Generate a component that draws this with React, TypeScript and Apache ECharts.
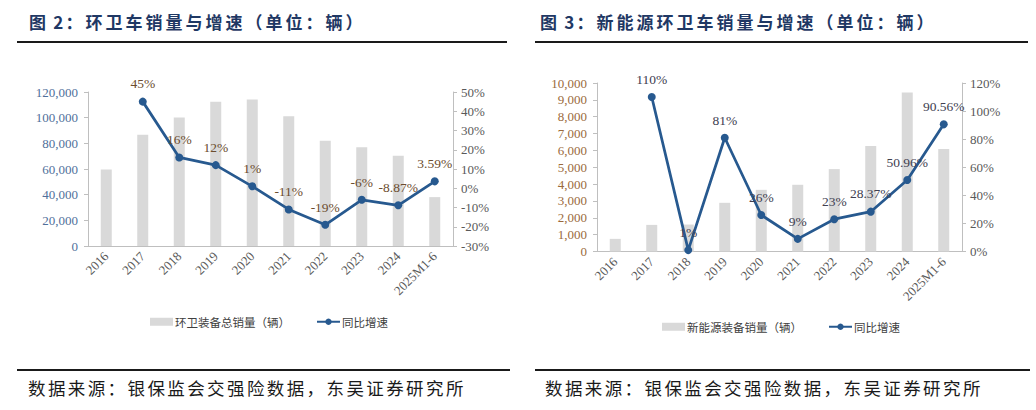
import React, { useEffect, useRef } from "react";
import * as echarts from "echarts";

const categories = ["2016", "2017", "2018", "2019", "2020", "2021", "2022", "2023", "2024", "2025M1-6"];

// Left chart: total sanitation equipment sales (units) and YoY growth (%)
const totalSales = [59600, 86600, 100100, 112500, 114100, 101100, 82000, 77000, 70300, 38100];
const totalGrowth = [null, 45, 16, 12, 1, -11, -19, -6, -8.87, 3.59];
const leftCountTicks = { min: 0, max: 120000, interval: 20000 };
const leftPctTicks = { min: -30, max: 50, interval: 10 };

// Right chart: new-energy sanitation equipment sales (units) and YoY growth (%)
const neSales = [750, 1580, 1600, 2890, 3660, 3960, 4890, 6260, 9440, 6080];
const neGrowth = [null, 110, 1, 81, 26, 9, 23, 28.37, 50.96, 90.56];
const rightCountTicks = { min: 0, max: 10000, interval: 1000 };
const rightPctTicks = { min: 0, max: 120, interval: 20 };

const titleLeft = "图 2：环卫车销量与增速（单位：辆）";
const titleRight = "图 3：新能源环卫车销量与增速（单位：辆）";
const sourceText = "数据来源：银保监会交强险数据，东吴证券研究所";
const legendLeft = ["环卫装备总销量（辆）", "同比增速"];
const legendRight = ["新能源装备销量（辆）", "同比增速"];

const SERIF = "'Liberation Serif', 'Times New Roman', 'Noto Sans CJK SC', serif";
const CJK = "'Noto Sans CJK SC', sans-serif";
const BAR = "#d9d9d9";
const LINE = "#27598f";
const AXIS = "#bfbfbf";

function fmtThousands(v: number) {
  return v.toLocaleString("en-US");
}

// spaced text: one text element per character, with a fixed extra spacing
function spacedText(
  text: string,
  left: number,
  top: number,
  fontSize: number,
  spacing: number,
  style: any
) {
  const children: any[] = [];
  let x = 0;
  for (const ch of Array.from(text)) {
    if (ch === " ") {
      x += fontSize * 0.25;
      continue;
    }
    const ascii = ch.charCodeAt(0) < 128;
    const w = ascii ? fontSize * 0.55 : fontSize;
    children.push({
      type: "text",
      x,
      y: 0,
      style: { text: ch, fontSize, ...style },
    });
    x += w + spacing;
  }
  return { type: "group", left, top, children };
}

export default function App() {
  const ref = useRef<HTMLDivElement>(null);
  useEffect(() => {
    if (!ref.current) return;
    const chart = echarts.init(ref.current, undefined, { renderer: "svg" });

    const xAxisBase = (gridIndex: number) => ({
      type: "category",
      gridIndex,
      data: categories,
      axisLine: { show: true, lineStyle: { color: AXIS, width: 1 } },
      axisTick: { show: false },
      axisLabel: {
        rotate: 45,
        interval: 0,
        margin: 8,
        color: "#595959",
        fontFamily: SERIF,
        fontSize: 13,
      },
    });

    const yCount = (gridIndex: number, t: any, color: string) => ({
      type: "value",
      gridIndex,
      position: "left",
      min: t.min,
      max: t.max,
      interval: t.interval,
      splitLine: { show: false },
      axisLine: { show: true, lineStyle: { color: AXIS } },
      axisTick: { show: true, length: 4, lineStyle: { color: AXIS } },
      axisLabel: {
        color,
        fontFamily: SERIF,
        fontSize: 13,
        margin: 10,
        formatter: (v: number) => fmtThousands(v),
      },
    });

    const yPct = (gridIndex: number, t: any) => ({
      type: "value",
      gridIndex,
      position: "right",
      min: t.min,
      max: t.max,
      interval: t.interval,
      splitLine: { show: false },
      axisLine: { show: true, lineStyle: { color: AXIS } },
      axisTick: { show: true, length: 4, lineStyle: { color: AXIS } },
      axisLabel: {
        color: "#595959",
        fontFamily: SERIF,
        fontSize: 13,
        margin: 8,
        formatter: (v: number) => `${v}%`,
      },
    });

    const lineSeries = (xi: number, yi: number, data: any[], labelColor: string) => ({
      type: "line",
      name: "同比增速",
      xAxisIndex: xi,
      yAxisIndex: yi,
      data,
      symbol: "circle",
      symbolSize: 8,
      lineStyle: { color: LINE, width: 2.75 },
      itemStyle: { color: LINE },
      z: 5,
      label: {
        show: true,
        position: "top",
        distance: 7,
        color: labelColor,
        fontFamily: SERIF,
        fontSize: 13.5,
        formatter: (p: any) => (p.value == null ? "" : `${p.value}%`),
      },
    });

    const legendCommon = {
      itemWidth: 23,
      itemHeight: 8,
      itemGap: 26,
      textStyle: { fontFamily: CJK, fontSize: 11.5, color: "#404040", padding: [0, 0, 0, -3] },
    };

    const titleStyle = { fontFamily: CJK, fontWeight: "bold", fill: "#1f3864" };
    const srcStyle = { fontFamily: CJK, fill: "#1a1a1a" };

    const option: any = {
      animation: false,
      backgroundColor: "#ffffff",
      grid: [
        { left: 88, top: 92, width: 365, height: 154 },
        { left: 597, top: 83, width: 365, height: 168.5 },
      ],
      xAxis: [xAxisBase(0), xAxisBase(1)],
      yAxis: [
        yCount(0, leftCountTicks, "#4f6f9a"),
        yPct(0, leftPctTicks),
        yCount(1, rightCountTicks, "#9a6a3c"),
        yPct(1, rightPctTicks),
      ],
      legend: [
        {
          ...legendCommon,
          left: 145,
          top: 311,
          data: [
            { name: legendLeft[0], icon: "rect" },
            { name: legendLeft[1] },
          ],
        },
        {
          ...legendCommon,
          left: 657,
          top: 316,
          data: [
            { name: legendRight[0], icon: "rect" },
            { name: legendRight[1] },
          ],
        },
      ],
      series: [
        {
          type: "bar",
          name: legendLeft[0],
          xAxisIndex: 0,
          yAxisIndex: 0,
          data: totalSales,
          barWidth: 11,
          itemStyle: { color: BAR },
        },
        lineSeries(0, 1, totalGrowth, "#6b4c2e"),
        {
          type: "bar",
          name: legendRight[0],
          xAxisIndex: 1,
          yAxisIndex: 2,
          data: neSales,
          barWidth: 11,
          itemStyle: { color: BAR },
        },
        lineSeries(1, 3, neGrowth, "#404050"),
      ],
      graphic: [
        spacedText(titleLeft, 29, 13, 17, 3, titleStyle),
        spacedText(titleRight, 540, 13, 17, 3, titleStyle),
        { type: "line", shape: { x1: 17, y1: 42, x2: 507, y2: 42 }, style: { stroke: "#1a1a1a", lineWidth: 2 } },
        { type: "line", shape: { x1: 535, y1: 42, x2: 1028, y2: 42 }, style: { stroke: "#1a1a1a", lineWidth: 2 } },
        { type: "line", shape: { x1: 17, y1: 370, x2: 510, y2: 370 }, style: { stroke: "#1a1a1a", lineWidth: 2 } },
        { type: "line", shape: { x1: 535, y1: 370, x2: 1030, y2: 370 }, style: { stroke: "#1a1a1a", lineWidth: 2 } },
        spacedText(sourceText, 28, 379, 17.5, 2.4, srcStyle),
        spacedText(sourceText, 545, 379, 17.5, 2.4, srcStyle),
      ],
    };

    chart.setOption(option);
    return () => chart.dispose();
  }, []);

  return (
    <div
      ref={ref}
      style={{ position: "fixed", left: 0, top: 0, width: 1036, height: 410, background: "#fff" }}
    />
  );
}
